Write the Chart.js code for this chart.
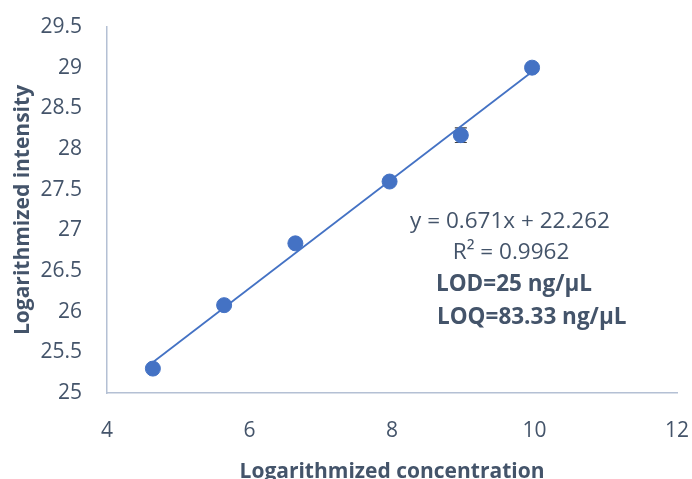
<!DOCTYPE html>
<html>
<head>
<meta charset="utf-8">
<script src="https://cdn.jsdelivr.net/npm/chart.js@4.4.0/dist/chart.umd.min.js"></script>
<style>
  html, body { margin: 0; padding: 0; background: #ffffff; }
  #wrap { width: 692px; height: 479px; position: relative; }
</style>
</head>
<body>
<div id="wrap"><canvas id="chart" width="692" height="479"></canvas></div>
<script>
// log2 of concentration vs log2 of intensity
const concentration = [4.644, 5.644, 6.644, 7.966, 8.966, 9.966];
const intensity = [25.30, 26.08, 26.84, 27.60, 28.17, 29.00];
const errors = [0, 0, 0, 0, 0.09, 0];

// trendline end points (from y = 0.671x + 22.262)
const trendX = [4.644, 9.966];
const trendY = [25.378, 28.949];

const xTicks = [4, 6, 8, 10, 12];
const yTicks = [25, 25.5, 26, 26.5, 27, 27.5, 28, 28.5, 29, 29.5];

const labelLines = [
  "y = 0.671x + 22.262",
  "R\u00b2 = 0.9962",
  "LOD=25 ng/\u00b5L",
  "LOQ=83.33 ng/\u00b5L"
];

const textColor = "#44546a";
const blue = "#4472c4";
const fontFamily = "'Open Sans', 'Liberation Sans', sans-serif";

const errorBars = {
  id: "errorBars",
  beforeDatasetsDraw(chart) {
    let ctx = chart.ctx;
    let xs = chart.scales.x;
    let ys = chart.scales.y;
    ctx.save();
    ctx.strokeStyle = "#404040";
    ctx.lineWidth = 1.2;
    errors.forEach((e, i) => {
      if (!e) return;
      let px = xs.getPixelForValue(concentration[i]);
      let top = ys.getPixelForValue(intensity[i] + e);
      let bot = ys.getPixelForValue(intensity[i] - e);
      ctx.beginPath();
      ctx.moveTo(px, top); ctx.lineTo(px, bot);
      ctx.moveTo(px - 6, top); ctx.lineTo(px + 6, top);
      ctx.moveTo(px - 6, bot); ctx.lineTo(px + 6, bot);
      ctx.stroke();
    });
    ctx.restore();
  }
};

const equationText = {
  id: "equationText",
  afterDraw(chart) {
    let ctx = chart.ctx;
    ctx.save();
    ctx.fillStyle = textColor;
    ctx.textBaseline = "middle";
    ctx.font = "22.5px " + fontFamily;
    ctx.textAlign = "center";
    ctx.fillText(labelLines[0], 510, 222);
    ctx.fillText(labelLines[1], 511, 253);
    ctx.font = "bold 22.5px " + fontFamily;
    ctx.textAlign = "left";
    ctx.fillText(labelLines[2], 436, 285);
    ctx.fillText(labelLines[3], 437, 318);
    ctx.restore();
  }
};

new Chart("chart", {
  type: "scatter",
  data: {
    datasets: [
      {
        type: "line",
        data: trendX.map((x, i) => ({ x: x, y: trendY[i] })),
        borderColor: blue,
        borderWidth: 1.8,
        pointRadius: 0,
        fill: false,
        order: 2
      },
      {
        data: concentration.map((x, i) => ({ x: x, y: intensity[i] })),
        backgroundColor: blue,
        borderColor: blue,
        pointRadius: 7.5,
        pointHoverRadius: 7.5,
        order: 1
      }
    ]
  },
  options: {
    responsive: false,
    animation: false,
    maintainAspectRatio: false,
    layout: { padding: { top: 27, right: 15, left: 0, bottom: 0 } },
    plugins: {
      legend: { display: false },
      tooltip: { enabled: false }
    },
    scales: {
      x: {
        type: "linear",
        min: 4,
        max: 12,
        afterBuildTicks: (axis) => { axis.ticks = xTicks.map(v => ({ value: v })); },
        afterFit: (axis) => {
          axis.height = 86;
          axis.paddingLeft = 0;
          axis.paddingRight = 0;
        },
        grid: { display: false, drawTicks: false },
        border: { color: "#b4c0d4", width: 1.5 },
        ticks: {
          color: textColor,
          padding: 25,
          font: { family: fontFamily, size: 21 }
        },
        title: {
          display: true,
          text: "Logarithmized concentration",
          color: textColor,
          padding: { top: 0, bottom: -6 },
          font: { family: fontFamily, size: 21, weight: "bold" }
        }
      },
      y: {
        type: "linear",
        min: 25,
        max: 29.5,
        afterBuildTicks: (axis) => { axis.ticks = yTicks.map(v => ({ value: v })); },
        afterFit: (axis) => {
          axis.width = 107;
          axis.paddingTop = 0;
          axis.paddingBottom = 0;
        },
        grid: { display: false, drawTicks: false },
        border: { color: "#b4c0d4", width: 1.5 },
        ticks: {
          color: textColor,
          padding: 25,
          font: { family: fontFamily, size: 21 },
          callback: (v) => String(v)
        },
        title: {
          display: true,
          text: "Logarithmized intensity",
          color: textColor,
          padding: { top: 10, bottom: 0 },
          font: { family: fontFamily, size: 21, weight: "bold" }
        }
      }
    }
  },
  plugins: [errorBars, equationText]
});
</script>
</body>
</html>
